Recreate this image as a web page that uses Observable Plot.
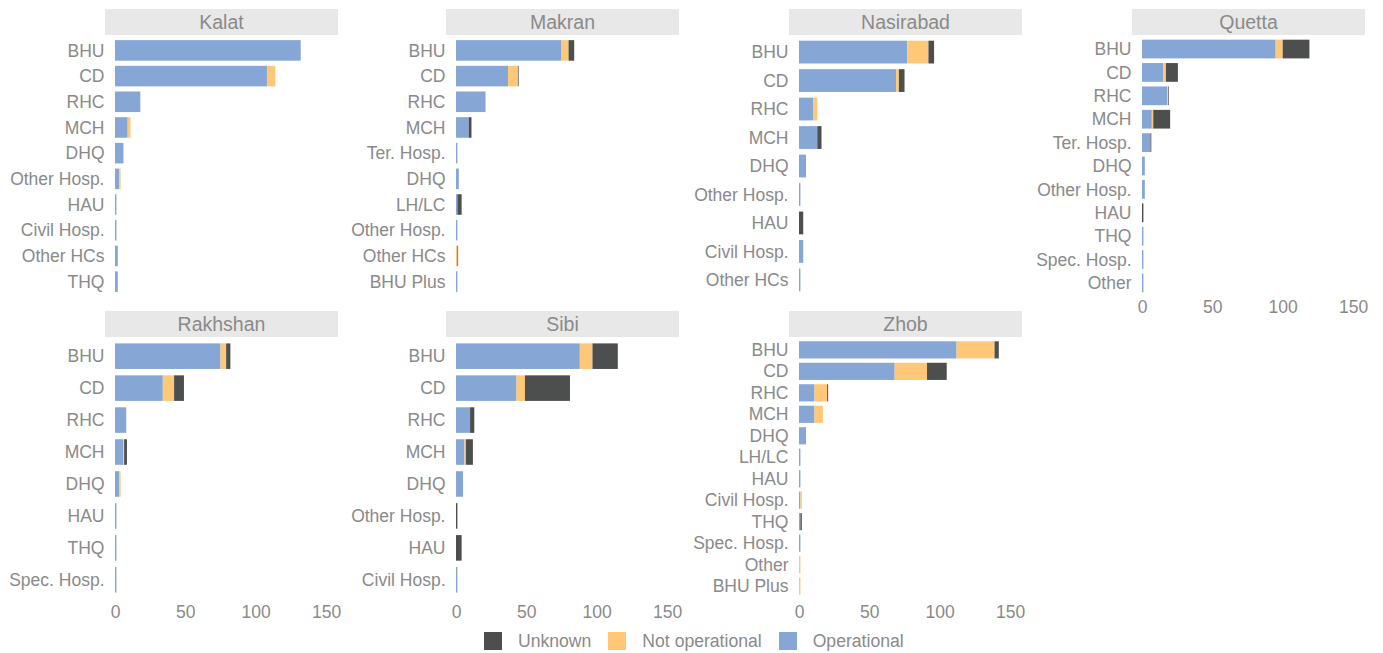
<!DOCTYPE html>
<html>
<head>
<meta charset="utf-8">
<script src="https://cdn.jsdelivr.net/npm/d3@7"></script>
<script src="https://cdn.jsdelivr.net/npm/@observablehq/plot@0.6"></script>
<style>
  html, body { margin: 0; padding: 0; background: #fff; }
  body { font-family: "Liberation Sans", Arial, sans-serif; }
  #chart { position: relative; width: 1383px; height: 653px; overflow: hidden; }
  .strip { position: absolute; background: #e8e8e8; color: #8a8a8a; font-size: 19.5px;
           text-align: center; height: 26px; line-height: 26px; }
  .panel { position: absolute; }
  .legend { position: absolute; left: 484px; top: 632px; height: 18px; display: flex;
            align-items: center; font-size: 17.6px; color: #8a8a8a; }
  .legend .item { display: flex; align-items: center; margin-right: 17px; }
  .legend .sw { width: 18px; height: 18px; margin-right: 16px; }
</style>
</head>
<body>
<div id="chart"></div>
<script>
// ---- Data ----
const regions = ["Kalat", "Makran", "Nasirabad", "Quetta", "Rakhshan", "Sibi", "Zhob"];
const statuses = ["Operational", "Not operational", "Unknown"];
const statusColors = ["#86A6D6", "#FEC878", "#4D4F4F"];
const legendOrder = ["Unknown", "Not operational", "Operational"];
const xTicks = [0, 50, 100, 150];

const kalatTypes = ["BHU", "CD", "RHC", "MCH", "DHQ", "Other Hosp.", "HAU", "Civil Hosp.", "Other HCs", "THQ"];
const kalatOperational = [132, 108, 18, 9, 6, 3, 1, 1, 2, 2];
const kalatNotOperational = [0, 6, 0, 2, 0, 1, 0, 0, 0, 0];
const kalatUnknown = [0, 0, 0, 0, 0, 0, 0, 0, 0, 0];

const makranTypes = ["BHU", "CD", "RHC", "MCH", "Ter. Hosp.", "DHQ", "LH/LC", "Other Hosp.", "Other HCs", "BHU Plus"];
const makranOperational = [75, 37, 21, 9, 1, 2, 1, 1, 0, 1];
const makranNotOperational = [5, 7, 0, 0, 0, 0, 0, 0, 1, 0];
const makranUnknown = [4, 0.5, 0, 2, 0, 0, 3, 0, 0.5, 0];

const nasirabadTypes = ["BHU", "CD", "RHC", "MCH", "DHQ", "Other Hosp.", "HAU", "Civil Hosp.", "Other HCs"];
const nasirabadOperational = [77, 69, 10, 13, 5, 1, 0, 3, 1];
const nasirabadNotOperational = [15, 2, 3, 0, 0, 0, 0, 0, 0];
const nasirabadUnknown = [4, 4, 0, 3, 0, 0, 3, 0, 0];

const quettaTypes = ["BHU", "CD", "RHC", "MCH", "Ter. Hosp.", "DHQ", "Other Hosp.", "HAU", "THQ", "Spec. Hosp.", "Other"];
const quettaOperational = [95, 15, 18, 7, 6, 2, 2, 0, 1, 1, 1];
const quettaNotOperational = [5, 2, 0.5, 1, 0, 0, 0, 0, 0, 0, 0];
const quettaUnknown = [19, 8.5, 0.5, 12, 0.6, 0, 0, 1, 0, 0, 0];

const rakhshanTypes = ["BHU", "CD", "RHC", "MCH", "DHQ", "HAU", "THQ", "Spec. Hosp."];
const rakhshanOperational = [75, 34, 8, 6, 3, 1, 1, 1];
const rakhshanNotOperational = [4, 8, 0, 0.5, 1, 0, 0, 0];
const rakhshanUnknown = [3, 7, 0, 2, 0, 0, 0, 0];

const sibiTypes = ["BHU", "CD", "RHC", "MCH", "DHQ", "Other Hosp.", "HAU", "Civil Hosp."];
const sibiOperational = [88, 43, 10, 6, 5, 0, 0, 1];
const sibiNotOperational = [9, 6, 0, 1, 0, 0, 0, 0];
const sibiUnknown = [18, 32, 3, 5, 0, 1, 4, 0];

const zhobTypes = ["BHU", "CD", "RHC", "MCH", "DHQ", "LH/LC", "HAU", "Civil Hosp.", "THQ", "Spec. Hosp.", "Other", "BHU Plus"];
const zhobOperational = [112, 68, 11, 11, 5, 1, 1, 1, 1, 1, 0, 0];
const zhobNotOperational = [27, 23, 9, 6, 0, 0, 0, 1, 0, 0, 1, 1];
const zhobUnknown = [3, 14, 0.7, 0, 0, 0, 0, 0, 1, 0, 0, 0];

const regionData = {
  Kalat: [kalatTypes, kalatOperational, kalatNotOperational, kalatUnknown],
  Makran: [makranTypes, makranOperational, makranNotOperational, makranUnknown],
  Nasirabad: [nasirabadTypes, nasirabadOperational, nasirabadNotOperational, nasirabadUnknown],
  Quetta: [quettaTypes, quettaOperational, quettaNotOperational, quettaUnknown],
  Rakhshan: [rakhshanTypes, rakhshanOperational, rakhshanNotOperational, rakhshanUnknown],
  Sibi: [sibiTypes, sibiOperational, sibiNotOperational, sibiUnknown],
  Zhob: [zhobTypes, zhobOperational, zhobNotOperational, zhobUnknown]
};

// ---- Layout ----
const colLeft = [105, 446, 789, 1132];
const panelW = 233;
const labelSpace = 105;
const stripTop = [9, 311];
const panelTop = [35, 337];
const panelH = 262;

const chart = document.getElementById("chart");
const fontFamily = '"Liberation Sans", Arial, sans-serif';

regions.forEach((region, i) => {
  const col = i % 4, row = Math.floor(i / 4);
  const [types, op, nop, unk] = regionData[region];
  const rows = [];
  types.forEach((t, j) => {
    [op[j], nop[j], unk[j]].forEach((v, k) => {
      if (v > 0) rows.push({type: t, status: statuses[k], value: v});
    });
  });
  const hasAxis = row === 1 || region === "Quetta";
  const axisPad = row === 1 ? 6 : 3;

  const strip = document.createElement("div");
  strip.className = "strip";
  strip.style.left = colLeft[col] + "px";
  strip.style.top = stripTop[row] + "px";
  strip.style.width = panelW + "px";
  strip.textContent = region;
  chart.appendChild(strip);

  const plot = Plot.plot({
    width: labelSpace + panelW,
    height: panelH + (hasAxis ? 28 : 0),
    marginLeft: labelSpace,
    marginRight: 0,
    marginTop: 0,
    marginBottom: hasAxis ? 28 : 0,
    style: {fontSize: "17.5px", color: "#8a8a8a", fontFamily, background: "transparent", overflow: "visible"},
    x: {domain: [-7.11, 158.5], ticks: xTicks, tickSize: 0, tickPadding: axisPad, label: null,
        axis: hasAxis ? "bottom" : null},
    y: {domain: types, padding: 0.2, round: false, tickSize: 0, tickPadding: 1, label: null},
    color: {domain: statuses, range: statusColors},
    marks: [
      Plot.barX(rows, Plot.stackX({x: "value", y: "type", fill: "status", z: "status", order: statuses}))
    ]
  });
  const wrap = document.createElement("div");
  wrap.className = "panel";
  wrap.style.left = (colLeft[col] - labelSpace) + "px";
  wrap.style.top = panelTop[row] + "px";
  wrap.appendChild(plot);
  chart.appendChild(wrap);
});

// ---- Legend ----
const legend = document.createElement("div");
legend.className = "legend";
legendOrder.forEach(s => {
  const item = document.createElement("div");
  item.className = "item";
  const sw = document.createElement("div");
  sw.className = "sw";
  sw.style.background = statusColors[statuses.indexOf(s)];
  const lab = document.createElement("span");
  lab.textContent = s;
  item.appendChild(sw);
  item.appendChild(lab);
  legend.appendChild(item);
});
chart.appendChild(legend);
</script>
</body>
</html>
